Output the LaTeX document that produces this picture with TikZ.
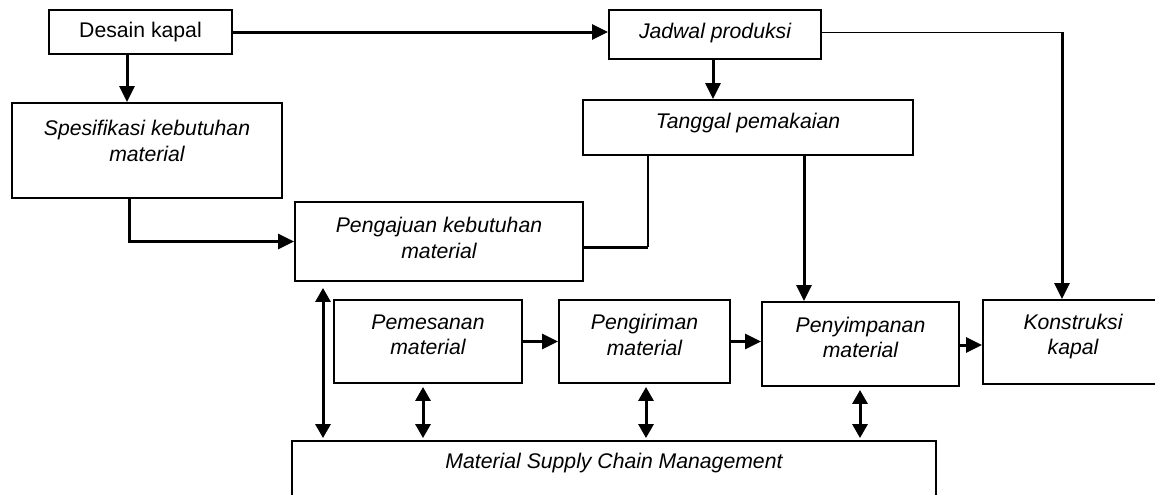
\documentclass[tikz,border=0pt]{standalone}
\usepackage{fontspec}
\setmainfont{Liberation Sans}
\usetikzlibrary{arrows.meta}

\begin{document}
\begin{tikzpicture}[x=0.5pt,y=-0.5pt,every node/.style={font=\fontsize{10.6}{12.6}\selectfont\itshape,align=center},
	box/.style={draw,line width=0.95pt,inner sep=0pt},
	txt/.style={inner sep=0pt},
	line/.style={line width=1.5pt},
	arr/.style={line width=1.5pt,-{Triangle[length=8pt,width=7.5pt]}},
	darr/.style={line width=1.5pt,{Triangle[length=7pt,width=7.5pt]}-{Triangle[length=7pt,width=7.5pt]},shorten <=1.5pt,shorten >=1pt}]
	
	\useasboundingbox (0,0) rectangle (1155,494);
	\clip (0,0) rectangle (1155,494);
	
	\node[box,minimum width=91.5pt,minimum height=22pt] (desain) at (140.5,32) {};
	\node[box,minimum width=135pt,minimum height=47.5pt] (spek) at (147,150.5) {};
	\node[box,minimum width=106pt,minimum height=24.5pt] (jadwal) at (715,34.5) {};
	\node[box,minimum width=165pt,minimum height=27.5pt] (tanggal) at (748,127.5) {};
	\node[box,minimum width=144pt,minimum height=39.5pt] (pengajuan) at (439,241.5) {};
	\node[box,minimum width=94pt,minimum height=41.5pt] (pemesanan) at (428,341.5) {};
	\node[box,minimum width=85.5pt,minimum height=41.5pt] (pengiriman) at (644.5,341.5) {};
	\node[box,minimum width=98.5pt,minimum height=42pt] (penyimpanan) at (860.5,344) {};
	\node[box,minimum width=90pt,minimum height=42pt] (konstruksi) at (1073,342) {};
	\node[box,minimum width=322pt,minimum height=39.5pt] (mscm) at (614,480.5) {};
	
	\node[txt] (desain-t) at (desain.center) {\upshape Desain kapal};
	\node[txt] (spek-t) at ([yshift=4.75pt]spek.center) {Spesifikasi kebutuhan\\material};
	\node[txt] (jadwal-t) at ([yshift=0.75pt]jadwal.center) {Jadwal produksi};
	\node[txt] (tanggal-t) at ([yshift=2.25pt]tanggal.center) {Tanggal pemakaian};
	\node[txt] (pengajuan-t) at ([yshift=1.75pt]pengajuan.center) {Pengajuan kebutuhan\\material};
	\node[txt] (pemesanan-t) at ([yshift=3.25pt]pemesanan.center) {Pemesanan\\material};
	\node[txt] (pengiriman-t) at ([yshift=3.25pt]pengiriman.center) {Pengiriman\\material};
	\node[txt] (penyimpanan-t) at ([yshift=3.25pt]penyimpanan.center) {Penyimpanan\\material};
	\node[txt] (konstruksi-t) at ([yshift=2.75pt]konstruksi.center) {Konstruksi\\kapal};
	\node[txt] (mscm-t) at ([yshift=8.75pt]mscm.center) {Material Supply Chain Management};
	
	\coordinate (y1) at (0,32);
	\coordinate (x1) at (127,0);
	\coordinate (x2) at (129,0);
	\coordinate (x3) at (648,0);
	\coordinate (x4) at (713,0);
	\coordinate (x5) at (1062,0);
	\coordinate (x6) at (804,0);
	\coordinate (x7) at (323,0);
	\coordinate (x8) at (423,0);
	\coordinate (x9) at (646,0);
	\coordinate (x10) at (860,0);
	
	\draw[arr] (desain.east) -- (y1 -| jadwal.west);
	\draw[arr] (desain.south -| x1) -- (spek.north -| x1);
	\draw[arr] (spek.south -| x2) |- (pengajuan.west);
	\draw[line] ([yshift=-2.75pt]pengajuan.east) -- ([yshift=-2.75pt]pengajuan.east -| x3);
	\draw[line width=0.9pt] ([yshift=-2.75pt]pengajuan.east -| x3) -- (tanggal.south -| x3);
	\draw[arr] (jadwal.south -| x4) -- (tanggal.north -| x4);
	\draw[line width=0.5pt] (y1 -| jadwal.east) -- (y1 -| x5);
	\draw[arr] (y1 -| x5) -- (konstruksi.north -| x5);
	\draw[arr] (tanggal.south -| x6) -- (penyimpanan.north -| x6);
	\draw[arr] (pemesanan.east) -- (pengiriman.west);
	\draw[arr] (pengiriman.east) -- (pengiriman.east -| penyimpanan.west);
	\draw[arr] ([yshift=-0.5pt]penyimpanan.east) -- ([yshift=-0.5pt]penyimpanan.east -| konstruksi.west);
	\draw[darr,shorten <=3pt] (pengajuan.south -| x7) -- (mscm.north -| x7);
	\draw[darr] (pemesanan.south -| x8) -- (mscm.north -| x8);
	\draw[darr] (pengiriman.south -| x9) -- (mscm.north -| x9);
	\draw[darr] (penyimpanan.south -| x10) -- (mscm.north -| x10);
	
\end{tikzpicture}
\end{document}
